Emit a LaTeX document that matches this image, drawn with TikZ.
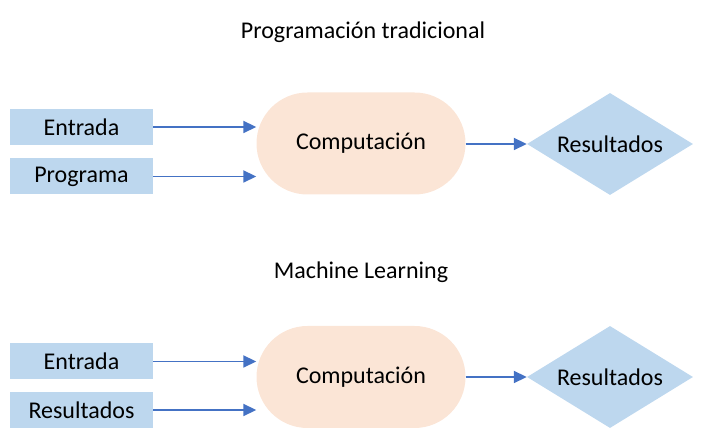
\documentclass[tikz,border=0pt]{standalone}
\usepackage{fontspec}
\setmainfont{Carlito}
\usetikzlibrary{arrows.meta,shapes.geometric}
\definecolor{cajaazul}{HTML}{BDD7EE}
\definecolor{crema}{HTML}{FBE5D6}
\definecolor{flecha}{HTML}{4472C4}
\tikzset{
  caja/.style={fill=cajaazul, minimum width=143pt, minimum height=36pt, inner sep=0pt},
  proceso/.style={fill=crema, rounded corners=51pt, minimum width=209pt, minimum height=102pt, inner sep=0pt},
  salida/.style={diamond, aspect=1.63, fill=cajaazul, minimum width=166pt, minimum height=102pt, inner sep=0pt},
}
\begin{document}
\begin{tikzpicture}[x=1pt, y=1pt, >={Triangle[length=13pt,width=12pt]}, font=\fontsize{24}{28}\selectfont]
\useasboundingbox (0,0) rectangle (703,446);
% programacion tradicional
\node (titulo1) at (363,414) {Programación tradicional};
\node[caja] (entrada1) at (81.5,319) {Entrada};
\node[caja] (programa) at (81.5,269.5) {Programa};
\node[proceso] (comp1) at (361,302.5) {Computación};
\node[salida] (res1) at (610,302) {Resultados};
\draw[->, flecha, line width=1.8pt](entrada1.east)--(entrada1.east -| comp1.west);
\draw[->, flecha, line width=1.8pt](programa.east)--(programa.east -| comp1.west);
\draw[->, flecha, line width=1.8pt](comp1.east |- res1.west)--(res1.west);
% machine learning
\node (titulo2) at (361,174) {Machine Learning};
\node[caja] (entrada2) at (81.5,84.5) {Entrada};
\node[caja] (resultados) at (81.5,36) {Resultados};
\node[proceso] (comp2) at (361,69) {Computación};
\node[salida] (res2) at (610,69) {Resultados};
\draw[->, flecha, line width=1.8pt](entrada2.east)--(entrada2.east -| comp2.west);
\draw[->, flecha, line width=1.8pt](resultados.east)--(resultados.east -| comp2.west);
\draw[->, flecha, line width=1.8pt](comp2.east |- res2.west)--(res2.west);
\end{tikzpicture}
\end{document}
